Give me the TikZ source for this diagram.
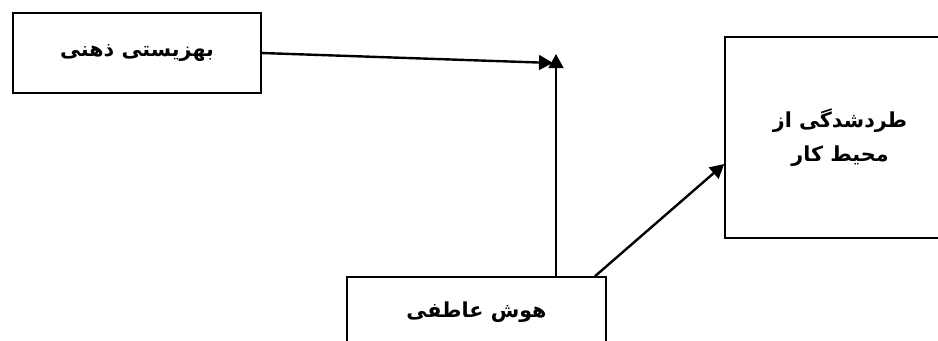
\documentclass[tikz,border=0pt]{standalone}
\usepackage{fontspec}
\usetikzlibrary{arrows.meta, positioning}
\TeXXeTstate=1
\newfontfamily\arabicfont[Script=Arabic, BoldFont={DejaVu Sans Bold}]{DejaVu Sans}

\begin{document}
\begin{tikzpicture}[
    x=0.75pt, y=-0.75pt,
    factor/.style={
        draw,
        line width=1.2pt,
        inner sep=0pt,
        align=center,
        font=\arabicfont\bfseries\fontsize{15.5}{26}\selectfont,
    },
    link/.style={
        line width=1.8pt,
        -{Triangle[length=10.5pt, width=11pt]},
    }
]
    % Frame
    \clip (0,0) rectangle (938,340);

    % Boxes
    \node[factor, minimum width=186pt, minimum height=60pt] (wellbeing) at (137,53) {\beginR بهزیستی ذهنی\endR};
    \node[factor, minimum width=172.5pt, minimum height=150.75pt] (exclusion) at (840,137.5) {\beginR طردشدگی از\endR\\ \beginR محیط کار\endR};
    \node[factor, minimum width=194pt, minimum height=52.5pt] (emotional) at (476.5,312) {\beginR هوش عاطفی\endR};

    % Arrows
    \coordinate (meet) at (553,63);
    \coordinate (top) at (556,54);
    \draw[link] (wellbeing.east) -- (meet);
    \draw[link] (emotional.north -| top) -- (top);
    \draw[link] (emotional.north -| 595,0) -- (exclusion.west |- 0,164);
\end{tikzpicture}
\end{document}
